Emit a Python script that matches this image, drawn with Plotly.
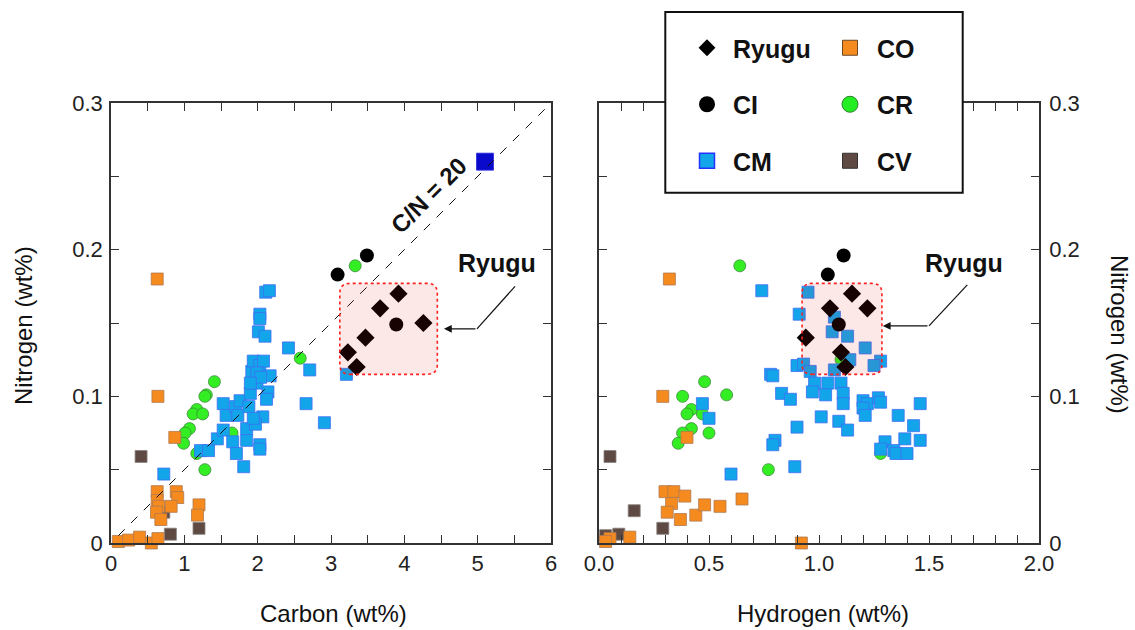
import plotly.graph_objects as go

# ---------------- data ----------------
# Left panel: Carbon (wt%) vs Nitrogen (wt%)
ryugu_c = [3.92, 3.67, 4.26, 3.47, 3.23, 3.35]
ryugu_n_c = [0.170, 0.160, 0.150, 0.140, 0.130, 0.120]

ci_c = [3.09, 3.49, 3.89]
ci_n_c = [0.183, 0.196, 0.149]

cr_c = [3.33, 1.41, 1.30, 1.28, 1.17, 1.12, 1.25, 1.07, 1.01, 0.99, 2.58, 1.17, 1.28, 1.65]
cr_n_c = [0.189, 0.110, 0.101, 0.100, 0.091, 0.088, 0.088, 0.078, 0.075, 0.068, 0.126, 0.061, 0.050, 0.075]

co_c = [0.63, 0.64, 0.87, 0.63, 0.89, 0.91, 0.63, 0.65, 0.82, 0.62, 0.68, 1.20, 1.18, 0.10, 0.24, 0.39, 0.55, 0.64]
co_n_c = [0.180, 0.100, 0.072, 0.035, 0.035, 0.031, 0.029, 0.025, 0.025, 0.021, 0.016, 0.026, 0.019, 0.001, 0.002, 0.004, 0.000, 0.003]

cv_c = [0.41, 0.81, 1.20, 0.72]
cv_n_c = [0.059, 0.006, 0.010, 0.021]

cm_c = [0.72, 1.22, 1.33, 1.45, 1.53, 1.53, 1.57, 1.70, 1.73, 1.76, 1.66, 1.71, 1.81, 1.85, 1.85,
        1.88, 1.90, 1.92, 1.94, 1.99, 2.03, 2.08, 2.17, 2.14, 2.12, 2.03, 2.03, 2.07, 1.97, 1.94,
        2.01, 2.10, 2.03, 2.03, 2.11, 2.16, 2.42, 2.71, 2.66, 2.91, 3.21, 1.99, 2.04, 1.90]
cm_n_c = [0.047, 0.063, 0.063, 0.071, 0.077, 0.095, 0.087, 0.093, 0.087, 0.097, 0.069, 0.061, 0.052, 0.070, 0.078,
          0.093, 0.102, 0.117, 0.124, 0.109, 0.121, 0.124, 0.114, 0.103, 0.098, 0.067, 0.064, 0.086, 0.081, 0.085,
          0.144, 0.141, 0.156, 0.153, 0.171, 0.172, 0.133, 0.118, 0.095, 0.082, 0.115, 0.116, 0.113, 0.109]

cm_special_c = [5.10]
cm_special_n = [0.260]

# Right panel: Hydrogen (wt%) vs Nitrogen (wt%)
ryugu_h = [1.15, 1.05, 1.22, 0.94, 1.10, 1.12]
ryugu_n_h = [0.170, 0.160, 0.160, 0.140, 0.130, 0.120]

ci_h = [1.112, 1.04, 1.09]
ci_n_h = [0.196, 0.183, 0.149]

cr_h = [0.64, 0.48, 0.38, 0.58, 0.42, 0.47, 0.40, 0.42, 0.50, 0.38, 0.36, 0.77, 1.28, 1.10]
cr_n_h = [0.189, 0.110, 0.100, 0.101, 0.091, 0.088, 0.088, 0.078, 0.075, 0.075, 0.068, 0.050, 0.061, 0.125]

co_h = [0.32, 0.29, 0.40, 0.30, 0.34, 0.39, 0.33, 0.31, 0.37, 0.44, 0.48, 0.55, 0.65, 0.14, 0.05, 0.03, 0.92]
co_n_h = [0.180, 0.100, 0.072, 0.035, 0.035, 0.032, 0.027, 0.021, 0.016, 0.019, 0.026, 0.025, 0.030, 0.004, 0.003, 0.001, 0.000]

cv_h = [0.05, 0.16, 0.29, 0.09, 0.03]
cv_n_h = [0.059, 0.022, 0.010, 0.006, 0.005]

cm_h = [0.74, 0.95, 0.91, 1.07, 1.06, 1.13, 1.21, 1.28, 1.25, 0.90, 0.93, 0.96, 1.07, 1.14, 0.78,
        0.79, 0.98, 1.04, 1.10, 0.83, 0.87, 0.97, 1.03, 1.11, 1.11, 1.20, 1.22, 1.27, 1.28, 1.20,
        1.21, 1.01, 1.09, 1.13, 1.36, 1.46, 1.43, 1.39, 1.46, 1.30, 1.28, 1.34, 1.35, 1.40, 0.90,
        0.80, 0.79, 0.89, 0.60, 0.47, 0.50]
cm_n_h = [0.172, 0.171, 0.156, 0.154, 0.144, 0.141, 0.133, 0.124, 0.121, 0.121, 0.122, 0.117, 0.118, 0.125, 0.115,
          0.114, 0.109, 0.109, 0.109, 0.102, 0.098, 0.103, 0.101, 0.102, 0.095, 0.097, 0.095, 0.099, 0.096, 0.092,
          0.087, 0.086, 0.083, 0.077, 0.087, 0.095, 0.080, 0.071, 0.070, 0.069, 0.064, 0.063, 0.061, 0.061, 0.079,
          0.070, 0.067, 0.052, 0.047, 0.095, 0.085]

CN_RATIO = 20
cn_line_c = [0.1, 6.0]

x1_ticks = [0, 1, 2, 3, 4, 5, 6]
x1_minor = [0.5, 1.5, 2.5, 3.5, 4.5, 5.5]
x2_ticks = [0.0, 0.5, 1.0, 1.5, 2.0]
x2_ticktext = ["0.0", "0.5", "1.0", "1.5", "2.0"]
x2_minor = [0.1, 0.2, 0.3, 0.4, 0.6, 0.7, 0.8, 0.9, 1.1, 1.2, 1.3, 1.4, 1.6, 1.7, 1.8, 1.9]
y_ticks = [0, 0.1, 0.2, 0.3]
y_ticktext = ["0", "0.1", "0.2", "0.3"]
y_minor = [0.05, 0.15, 0.25]

# ---------------- styling ----------------
W, H = 1135, 630
ML, MR, MT, MB = 111, 96, 103, 87
PW = W - ML - MR
PH = H - MT - MB


def px(xp):
    return (xp - ML) / PW


def py(yp):
    return (H - MB - yp) / PH


FONT = "Liberation Sans, Arial, Helvetica, sans-serif"
TXT = "#111111"
CM_STYLE = dict(color="#12A5EA", line=dict(color="#3F6EF2", width=0.8))
CO_STYLE = dict(color="#F58A1F", line=dict(color="#B07A50", width=0.8))
CR_STYLE = dict(color="#33EE22", line=dict(color="#3D8A3D", width=0.8))
CV_STYLE = dict(color="#5E4A42", line=dict(color="#8A8480", width=0.8))
CI_STYLE = dict(color="#000000", line=dict(color="#000000", width=0))
RY_STYLE = dict(color="#000000", line=dict(color="#000000", width=0))

fig = go.Figure()


def add_groups(xa, ya, cv, cr, co, cm):
    for (gx, gy), sym, sty in [(cv, "square", CV_STYLE), (cr, "circle", CR_STYLE),
                               (co, "square", CO_STYLE), (cm, "square", CM_STYLE)]:
        fig.add_trace(go.Scatter(x=gx, y=gy, mode="markers", xaxis=xa, yaxis=ya, showlegend=False,
                                 cliponaxis=False, marker=dict(symbol=sym, size=12, **sty)))


add_groups("x", "y", (cv_c, cv_n_c), (cr_c, cr_n_c), (co_c, co_n_c), (cm_c, cm_n_c))
fig.add_trace(go.Scatter(x=cm_special_c, y=cm_special_n, mode="markers", xaxis="x", yaxis="y",
                         showlegend=False, cliponaxis=False,
                         marker=dict(symbol="square", size=17, color="#0A0ACC",
                                     line=dict(color="#2A2AE0", width=0.8))))
fig.add_trace(go.Scatter(x=cn_line_c, y=[c / CN_RATIO for c in cn_line_c], mode="lines",
                         xaxis="x", yaxis="y", showlegend=False,
                         line=dict(color="#111111", width=1, dash="dash")))
fig.add_trace(go.Scatter(x=ci_c, y=ci_n_c, mode="markers", xaxis="x", yaxis="y", showlegend=False,
                         marker=dict(symbol="circle", size=14, **CI_STYLE)))
fig.add_trace(go.Scatter(x=ryugu_c, y=ryugu_n_c, mode="markers", xaxis="x", yaxis="y", showlegend=False,
                         marker=dict(symbol="diamond", size=14, **RY_STYLE)))

add_groups("x2", "y2", (cv_h, cv_n_h), (cr_h, cr_n_h), (co_h, co_n_h), (cm_h, cm_n_h))
fig.add_trace(go.Scatter(x=ci_h, y=ci_n_h, mode="markers", xaxis="x2", yaxis="y2", showlegend=False,
                         marker=dict(symbol="circle", size=14, **CI_STYLE)))
fig.add_trace(go.Scatter(x=ryugu_h, y=ryugu_n_h, mode="markers", xaxis="x2", yaxis="y2", showlegend=False,
                         marker=dict(symbol="diamond", size=14, **RY_STYLE)))

# legend-only entries (two columns via two legends)
legend_entries = [
    ("Ryugu", "diamond", RY_STYLE, "legend", 13),
    ("CI", "circle", CI_STYLE, "legend", 16),
    ("CM", "square", dict(color="#12A5EA", line=dict(color="#2233FF", width=1.5)), "legend", 15),
    ("CO", "square", dict(color="#F58A1F", line=dict(color="#6B4A2A", width=1)), "legend2", 15),
    ("CR", "circle", dict(color="#22EE22", line=dict(color="#2F7F2F", width=1)), "legend2", 16),
    ("CV", "square", dict(color="#5E4A42", line=dict(color="#333333", width=1)), "legend2", 15),
]
for name, sym, sty, lg, sz in legend_entries:
    fig.add_trace(go.Scatter(x=[None], y=[None], mode="markers", name=name, legend=lg,
                             legendgroup=name, xaxis="x", yaxis="y",
                             marker=dict(symbol=sym, size=sz, **sty)))


def rounded_rect(x0, x1, y0, y1, rx, ry):
    return (f"M {x0 + rx},{y0} L {x1 - rx},{y0} Q {x1},{y0} {x1},{y0 + ry} "
            f"L {x1},{y1 - ry} Q {x1},{y1} {x1 - rx},{y1} L {x0 + rx},{y1} "
            f"Q {x0},{y1} {x0},{y1 - ry} L {x0},{y0 + ry} Q {x0},{y0} {x0 + rx},{y0} Z")


BOX_FILL = "rgba(235,25,25,0.10)"
BOX_LINE = dict(color="#FF2020", width=1.6, dash="dot")

shapes = [
    dict(type="path", xref="x", yref="y", layer="above",
         path=rounded_rect(3.12, 4.45, 0.115, 0.177, 0.14, 0.0068),
         fillcolor=BOX_FILL, line=BOX_LINE),
    dict(type="path", xref="x2", yref="y2", layer="above",
         path=rounded_rect(0.923, 1.286, 0.115, 0.177, 0.046, 0.0068),
         fillcolor=BOX_FILL, line=BOX_LINE),
    # arrow leader segments
    dict(type="line", xref="x", yref="y", x0=5.51, y0=0.175, x1=4.99, y1=0.146,
         line=dict(color="#111111", width=1.2)),
    dict(type="line", xref="x2", yref="y2", x0=1.674, y0=0.176, x1=1.50, y1=0.148,
         line=dict(color="#111111", width=1.2)),
    # legend frame
    dict(type="rect", xref="paper", yref="paper", layer="above",
         x0=px(665.3), x1=px(962.7), y0=py(192.7), y1=py(12),
         fillcolor="white", line=dict(color="#111111", width=2)),
]


def ann(**kw):
    base = dict(showarrow=False, xanchor="center", yanchor="middle")
    base.update(kw)
    return base


annotations = [
    dict(xref="x", yref="y", x=4.54, y=0.146, ax=4.99, ay=0.146, axref="x", ayref="y",
         text="", showarrow=True, arrowhead=2, arrowsize=1.3, arrowwidth=1.2, arrowcolor="#111111"),
    dict(xref="x2", yref="y2", x=1.29, y=0.148, ax=1.50, ay=0.148, axref="x2", ayref="y2",
         text="", showarrow=True, arrowhead=2, arrowsize=1.3, arrowwidth=1.2, arrowcolor="#111111"),
    ann(xref="x", yref="y", x=5.27, y=0.191, text="<b>Ryugu</b>",
        font=dict(family=FONT, size=25, color=TXT)),
    ann(xref="x2", yref="y2", x=1.66, y=0.191, text="<b>Ryugu</b>",
        font=dict(family=FONT, size=25, color=TXT)),
    ann(xref="x", yref="y", x=4.33, y=0.237, text="<b>C/N = 20</b>", textangle=-45,
        font=dict(family=FONT, size=24, color=TXT)),
    # axis titles
    ann(xref="paper", yref="paper", x=px(333), y=py(613), text="Carbon (wt%)",
        font=dict(family=FONT, size=24, color=TXT)),
    ann(xref="paper", yref="paper", x=px(823), y=py(613), text="Hydrogen (wt%)",
        font=dict(family=FONT, size=24, color=TXT)),
    ann(xref="paper", yref="paper", x=px(23), y=py(326), text="Nitrogen (wt%)", textangle=-90,
        font=dict(family=FONT, size=24, color=TXT)),
    ann(xref="paper", yref="paper", x=px(1120), y=py(334), text="Nitrogen (wt%)", textangle=90,
        font=dict(family=FONT, size=24, color=TXT)),
]

TICKC = "#333333"
axis_common = dict(showline=True, linecolor=TICKC, linewidth=1.5, mirror="ticks",
                   ticks="inside", ticklen=8, tickwidth=1.2, tickcolor=TICKC,
                   showgrid=False, zeroline=False,
                   tickfont=dict(family=FONT, size=22, color="#222222"))


def minor(vals):
    return dict(tickmode="array", tickvals=vals, ticks="inside", ticklen=8, tickwidth=1.2, tickcolor=TICKC)


LEG_FONT = dict(family=FONT, size=25, color=TXT, weight="bold")

fig.update_layout(
    width=W, height=H,
    margin=dict(l=ML, r=MR, t=MT, b=MB, pad=0),
    paper_bgcolor="white", plot_bgcolor="white",
    font=dict(family=FONT),
    xaxis=dict(domain=[0, 440 / PW], range=[0, 6], anchor="y", tickmode="array", tickvals=x1_ticks,
               minor=minor(x1_minor), **axis_common),
    yaxis=dict(domain=[0, 1], range=[0, 0.3], anchor="x", tickmode="array", tickvals=y_ticks,
               ticktext=y_ticktext, minor=minor(y_minor), ticklabelstandoff=2, **axis_common),
    xaxis2=dict(domain=[(599 - ML) / PW, 1], range=[0, 2.0], anchor="y2", tickmode="array",
                tickvals=x2_ticks, ticktext=x2_ticktext, minor=minor(x2_minor), **axis_common),
    yaxis2=dict(domain=[0, 1], range=[0, 0.3], anchor="x2", side="right", tickmode="array",
                tickvals=y_ticks, ticktext=y_ticktext, minor=minor(y_minor), ticklabelstandoff=4,
                **axis_common),
    shapes=shapes,
    annotations=annotations,
    legend=dict(x=px(681), y=py(25), xanchor="left", yanchor="top", bgcolor="rgba(0,0,0,0)",
                borderwidth=0, tracegroupgap=21, itemwidth=42, font=LEG_FONT),
    legend2=dict(x=px(823), y=py(25), xanchor="left", yanchor="top", bgcolor="rgba(0,0,0,0)",
                 borderwidth=0, tracegroupgap=21, itemwidth=44, font=LEG_FONT),
)

fig.write_html("out.html")
